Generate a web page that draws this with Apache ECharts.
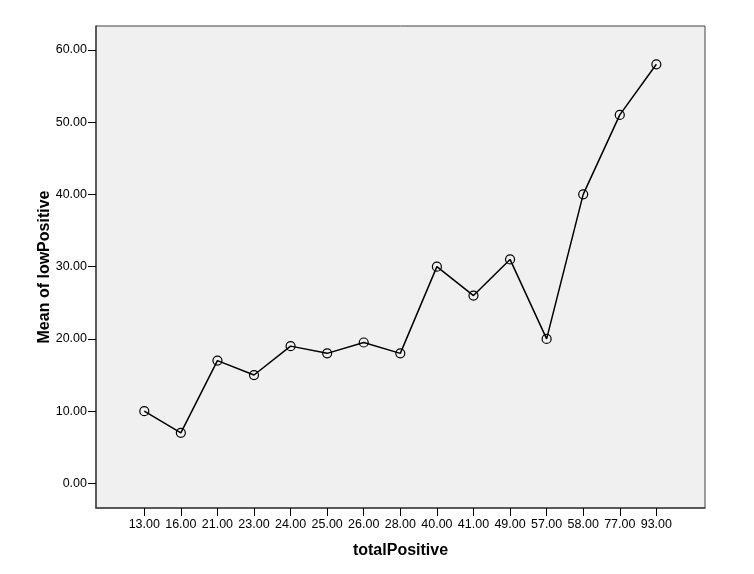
<!DOCTYPE html>
<html>
<head>
<meta charset="utf-8">
<script src="https://cdn.jsdelivr.net/npm/echarts@6/dist/echarts.min.js"></script>
<style>
  html, body { margin: 0; padding: 0; background: #fff; }
  #main { width: 754px; height: 574px; }
</style>
</head>
<body>
<div id="main"></div>
<script>
// totalPositive categories
var categories = ['13.00', '16.00', '21.00', '23.00', '24.00', '25.00', '26.00', '28.00',
  '40.00', '41.00', '49.00', '57.00', '58.00', '77.00', '93.00'];
// mean of lowPositive
var meanLow = [10, 7, 17, 15, 19, 18, 19.5, 18, 30, 26, 31, 20, 40, 51, 58];
var yTicks = [0, 10, 20, 30, 40, 50, 60];

var xTicks = categories.map(function (c, i) { return i; });
var points = meanLow.map(function (v, i) { return [i, v]; });

var chart = echarts.init(document.getElementById('main'));
var font = '"Liberation Sans", Arial, sans-serif';
var frame = '#444';

chart.setOption({
  animation: false,
  grid: {
    left: 96, right: 49, top: 26, bottom: 66,
    show: true,
    backgroundColor: '#f0f0f0',
    borderColor: frame,
    borderWidth: 1
  },
  xAxis: {
    type: 'value',
    min: -1.32,
    max: 15.33,
    name: 'totalPositive',
    nameLocation: 'middle',
    nameGap: 35,
    nameMoveOverlap: false,
    nameTextStyle: { fontFamily: font, fontSize: 16, fontWeight: 'bold', color: '#000' },
    axisLine: { show: true, onZero: false, lineStyle: { color: frame, width: 1.5 } },
    axisTick: { show: true, length: 8, customValues: xTicks, lineStyle: { color: '#000' } },
    axisLabel: {
      customValues: xTicks,
      margin: 10,
      fontFamily: font, fontSize: 12.5, color: '#000',
      formatter: function (v) { return categories[Math.round(v)]; }
    },
    splitLine: { show: false }
  },
  yAxis: {
    type: 'value',
    min: -3.4,
    max: 63.3,
    name: 'Mean of lowPositive',
    nameLocation: 'middle',
    nameGap: 43,
    nameMoveOverlap: false,
    nameTextStyle: { fontFamily: font, fontSize: 16, fontWeight: 'bold', color: '#000' },
    axisLine: { show: true, onZero: false, lineStyle: { color: frame, width: 1.5 } },
    axisTick: { show: true, length: 8, customValues: yTicks, lineStyle: { color: '#000' } },
    axisLabel: {
      customValues: yTicks,
      margin: 9,
      fontFamily: font, fontSize: 12.5, color: '#000',
      formatter: function (v) { return v.toFixed(2); }
    },
    splitLine: { show: false }
  },
  series: [{
    type: 'line',
    data: points,
    symbol: 'circle',
    symbolSize: 9,
    itemStyle: { color: 'rgba(0,0,0,0)', borderColor: '#000', borderWidth: 1.2 },
    lineStyle: { color: '#000', width: 1.5 }
  }]
});
</script>
</body>
</html>
